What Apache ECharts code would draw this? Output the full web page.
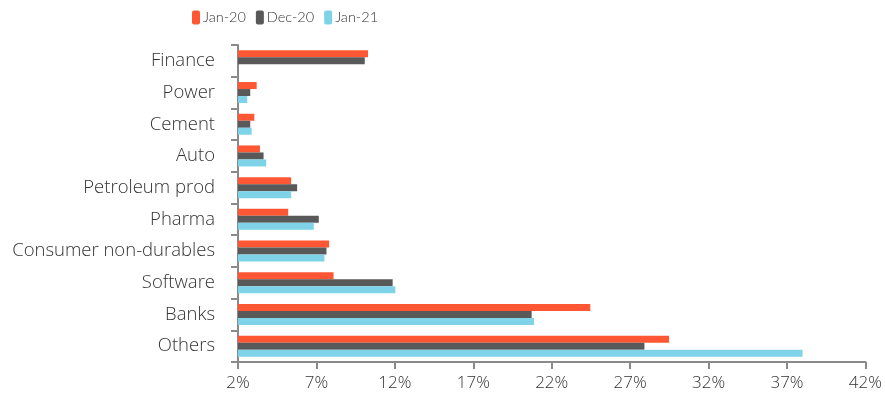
<!DOCTYPE html>
<html><head><meta charset="utf-8">
<script src="https://cdn.jsdelivr.net/npm/echarts@6/dist/echarts.min.js"></script>
<style>html,body{margin:0;padding:0;background:#fff}#c{width:885px;height:405px}</style>
</head><body><div id="c"></div>
<script>
const categories = ['Finance','Power','Cement','Auto','Petroleum prod','Pharma','Consumer non-durables','Software','Banks','Others'];
const jan20 = [10.29, 3.19, 3.04, 3.40, 5.39, 5.20, 7.81, 8.09, 24.46, 29.48];
const dec20 = [10.08, 2.78, 2.78, 3.63, 5.77, 7.15, 7.64, 11.86, 20.72, 27.91];
const jan21 = [null, 2.59, 2.87, 3.80, 5.39, 6.83, 7.51, 12.03, 20.87, 37.99];
const xTicks = [2, 7, 12, 17, 22, 27, 32, 37, 42];

const font = 'Open Sans';
const axisColor = '#8a8a8a';
const chart = echarts.init(document.getElementById('c'));
chart.setOption({
  animation: false,
  textStyle: {fontFamily: font},
  legend: {
    top: 5, left: 187, itemWidth: 8, itemHeight: 14, itemGap: 10,
    textStyle: {fontSize: 14.5, color: '#333', fontFamily: 'Lato', fontWeight: 300, padding: [0, 0, 0, -2]},
    data: ['Jan-20','Dec-20','Jan-21']
  },
  grid: {left: 238, right: 18, top: 45, bottom: 43, containLabel: false},
  xAxis: {
    type: 'value', min: xTicks[0], max: xTicks[xTicks.length-1], interval: 5,
    axisLine: {show: true, lineStyle: {color: axisColor, width: 2}},
    axisTick: {show: true, length: 7, lineStyle: {color: axisColor, width: 2}},
    splitLine: {show: false},
    axisLabel: {margin: 13, fontSize: 17, color: '#333', fontFamily: font, fontWeight: 300, formatter: v => v + '%'}
  },
  yAxis: {
    type: 'category', data: categories, inverse: true,
    axisLine: {lineStyle: {color: axisColor, width: 2}},
    axisTick: {show: true, length: 7, lineStyle: {color: axisColor, width: 2}},
    axisLabel: {margin: 23, fontSize: 18.5, color: '#333', fontFamily: font, fontWeight: 300}
  },
  series: [
    {name: 'Jan-20', type: 'bar', data: jan20, barWidth: 7, barGap: '0%', itemStyle: {color: '#FF5733'}},
    {name: 'Dec-20', type: 'bar', data: dec20, barWidth: 7, barGap: '0%', itemStyle: {color: '#595959'}},
    {name: 'Jan-21', type: 'bar', data: jan21, barWidth: 7, barGap: '0%', itemStyle: {color: '#7ED3E8'}}
  ]
});
</script></body></html>
